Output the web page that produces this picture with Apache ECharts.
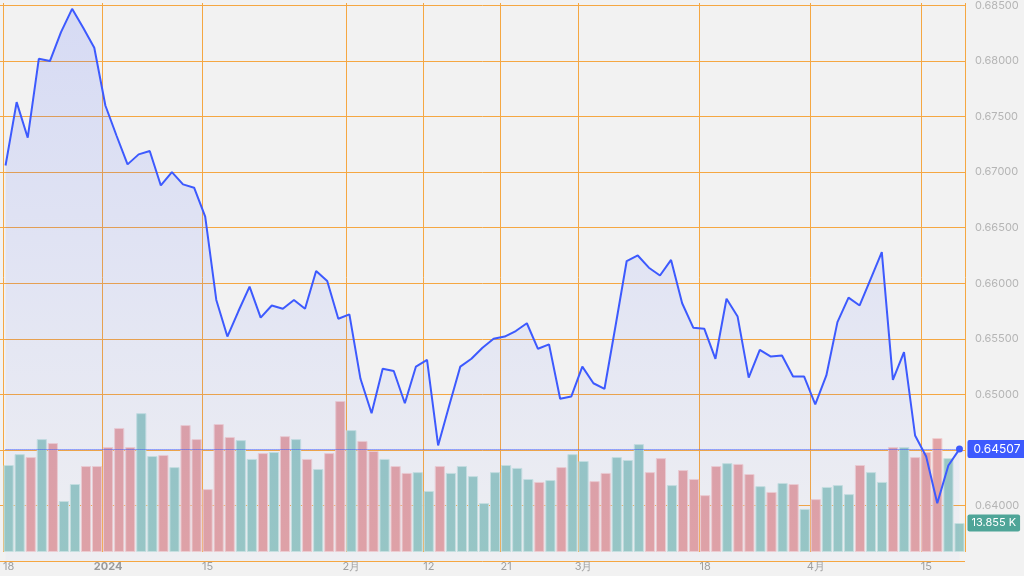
<!DOCTYPE html>
<html>
<head>
<meta charset="utf-8">
<script src="https://cdn.jsdelivr.net/npm/echarts@6/dist/echarts.min.js"></script>
<style>
  html, body { margin: 0; padding: 0; background: #f2f2f2; }
  #chart { width: 1024px; height: 576px; }
</style>
</head>
<body>
<div id="chart"></div>
<script>
// price close per session
const prices = [
  0.6706, 0.6763, 0.6731, 0.6802, 0.6800, 0.6826, 0.6847, 0.6830, 0.6812, 0.6760,
  0.6733, 0.6707, 0.6716, 0.6719, 0.6688, 0.6700, 0.6689, 0.6686, 0.6660, 0.6585,
  0.6552, 0.6575, 0.6597, 0.6569, 0.6580, 0.6577, 0.6585, 0.6577, 0.6611, 0.6602,
  0.6568, 0.6572, 0.6514, 0.6483, 0.6523, 0.6521, 0.6492, 0.6525, 0.6531, 0.6454,
  0.6490, 0.6525, 0.6532, 0.6542, 0.6550, 0.6552, 0.6557, 0.6564, 0.6541, 0.6545,
  0.6496, 0.6498, 0.6525, 0.6510, 0.6505, 0.6562, 0.6620, 0.6625, 0.6614, 0.6607,
  0.6621, 0.6582, 0.6560, 0.6559, 0.6532, 0.6586, 0.6570, 0.6515, 0.6540, 0.6534,
  0.6535, 0.6516, 0.6516, 0.6491, 0.6517, 0.6565, 0.6587, 0.6580, 0.6604, 0.6628,
  0.6513, 0.6538, 0.6463, 0.6444, 0.6402, 0.6436, 0.64507
];
// volume in K
const volumes = [
  41.6, 46.8, 45.4, 54.0, 52.1, 24.4, 32.5, 41.1, 41.1, 50.2,
  59.3, 50.2, 66.4, 45.9, 46.4, 40.6, 60.7, 54.0, 30.1, 61.2,
  55.0, 53.5, 44.5, 47.3, 47.8, 55.4, 54.0, 44.5, 39.7, 47.3,
  72.2, 58.3, 53.1, 48.3, 44.5, 41.1, 37.8, 38.2, 29.2, 41.1,
  37.8, 41.1, 36.3, 23.4, 38.2, 41.6, 40.2, 34.9, 33.5, 34.4,
  40.6, 46.8, 43.5, 33.9, 37.8, 45.4, 44.0, 51.6, 38.2, 44.9,
  32.0, 39.2, 34.9, 27.2, 41.1, 42.5, 42.1, 37.3, 31.5, 28.7,
  33.0, 32.5, 20.6, 25.3, 31.1, 32.0, 27.7, 41.6, 38.2, 33.5,
  50.2, 50.2, 45.4, 47.8, 54.5, 44.9, 13.855
];
// up (g) / down (r)
const directions = 'ggrgrggrrrrrggrgrrrrrggrgrgrgrrgrrgrrggrggggggggrgrggrrgggrrgrrrrgrrgrgrgrgggrggrgrrrgg'.split('');
// sparse date labels by session index
const dateLabels = { 0: '18', 9: '2024', 18: '15', 31: '2月', 38: '12', 45: '21', 52: '3月', 63: '18', 73: '4月', 83: '15' };
const categories = prices.map((_, i) => dateLabels[i] || '');
const lastPrice = 0.64507;
const lastVolume = 13.855;

const orange = '#f5a742';
const last = prices.length - 1;
const chart = echarts.init(document.getElementById('chart'));
chart.setOption({
  backgroundColor: '#f2f2f2',
  animation: false,
  grid: [
    { left: 0, right: 59, top: 3, bottom: 15 },
    { left: 0, right: 59, top: 3, bottom: 24 }
  ],
  xAxis: [
    { type: 'category', gridIndex: 0, data: categories, boundaryGap: true,
      axisLine: { show: false }, axisTick: { show: false }, axisLabel: { show: false }, splitLine: { show: false } },
    { type: 'category', gridIndex: 1, data: categories, boundaryGap: true,
      axisLine: { show: false }, axisTick: { show: false },
      axisLabel: {
        interval: (i) => !!dateLabels[i], color: '#a0a0a0', fontSize: 11, margin: 9,
        fontFamily: 'Inter, sans-serif',
        formatter: (v) => v === '2024' ? '{b|2024}' : v,
        rich: { b: { fontWeight: 'bold', color: '#9a9a9a', fontSize: 11 } }
      },
      splitLine: { show: true, interval: (i) => !!dateLabels[i], lineStyle: { color: orange, width: 1 } } }
  ],
  yAxis: [
    { type: 'value', gridIndex: 0, position: 'right', min: 0.635, max: 0.685, interval: 0.005,
      axisLine: { show: false }, axisTick: { show: false },
      axisLabel: { color: '#b5b5b5', fontSize: 11, margin: 10, fontFamily: 'Inter, sans-serif',
        formatter: (v) => v < 0.6375 ? '' : v.toFixed(5) },
      splitLine: { lineStyle: { color: orange, width: 1 } } },
    { type: 'value', gridIndex: 1, min: 0, max: 262.5, show: false }
  ],
  series: [
    {
      type: 'bar', xAxisIndex: 1, yAxisIndex: 1, barCategoryGap: '8%',
      data: volumes.map((v, i) => ({
        value: v,
        itemStyle: directions[i] === 'g'
          ? { color: '#99c8c4', borderColor: '#c9e2df', borderWidth: 1 }
          : { color: '#e2a3a5', borderColor: '#f0cfd0', borderWidth: 1 }
      })),
      markLine: {
        symbol: 'none', silent: true,
        lineStyle: { color: 'rgba(0,0,0,0)', width: 0 },
        label: { show: true, position: 'end', distance: 8, formatter: lastVolume.toFixed(3) + ' K', color: '#fff',
          backgroundColor: '#4fa598', padding: [3, 4], borderRadius: 2, fontSize: 11, fontFamily: 'Inter, sans-serif' },
        data: [[{ coord: [0, lastVolume] }, { coord: [last, lastVolume] }]]
      }
    },
    {
      type: 'line', xAxisIndex: 0, yAxisIndex: 0, data: prices, showSymbol: false, z: 5,
      lineStyle: { color: '#3d5afe', width: 2 },
      areaStyle: { origin: 'start', color: new echarts.graphic.LinearGradient(0, 0, 0, 1, [
        { offset: 0, color: 'rgba(61,90,254,0.22)' },
        { offset: 1, color: 'rgba(61,90,254,0.03)' }
      ]) },
      markLine: {
        symbol: 'none', silent: true,
        lineStyle: { color: '#3d5afe', type: 'dotted', width: 1 },
        label: { position: 'end', distance: 8, formatter: lastPrice.toFixed(5), color: '#fff',
          backgroundColor: '#3d5afe', padding: [3, 6], borderRadius: 2, fontSize: 12, fontFamily: 'Inter, sans-serif' },
        data: [[{ coord: [0, lastPrice] }, { coord: [last, lastPrice] }]]
      },
      markPoint: {
        symbol: 'circle', symbolSize: 7, silent: true, label: { show: false },
        itemStyle: { color: '#3d5afe' },
        data: [{ coord: [last, lastPrice] }]
      }
    }
  ]
});
</script>
</body>
</html>
